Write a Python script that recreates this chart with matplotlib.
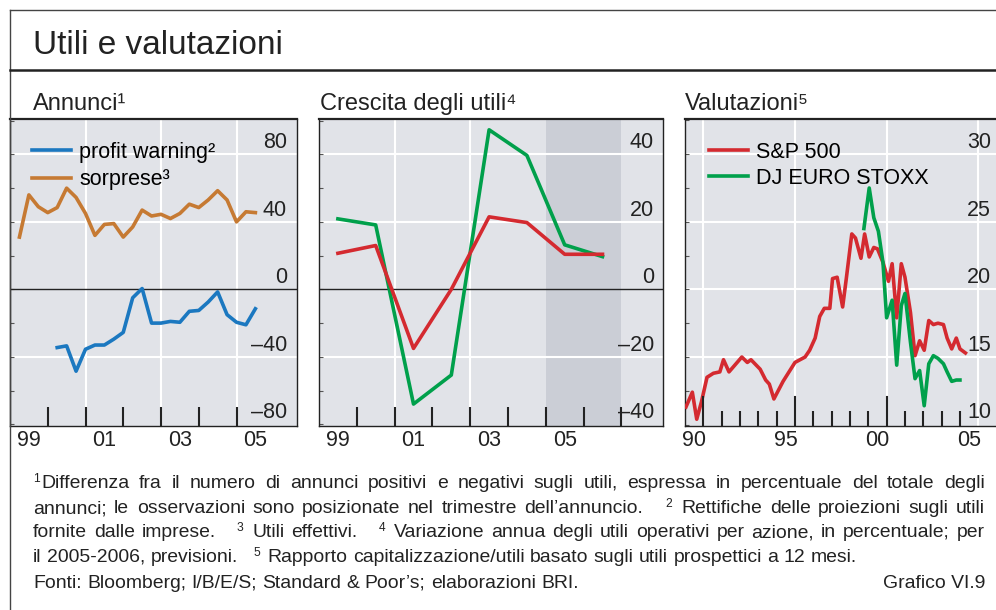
import numpy as np
import matplotlib.pyplot as plt
from matplotlib.lines import Line2D
from matplotlib.font_manager import FontProperties
from matplotlib.transforms import offset_copy

plt.rcParams['font.family'] = ['Liberation Sans', 'DejaVu Sans']

# Annunci (trimestrali): sorprese dal 1999, profit warning dal 2000
x_sorprese = np.arange(26) * 0.25 + 1999.25
sorprese = [31, 56, 49, 45.5, 48.5, 60, 54.5, 45, 32, 38.5, 39, 31, 37,
            47, 43.5, 44.5, 42, 45, 50.5, 48.5, 53, 58.5, 53, 40, 46, 45.5]
x_warning = np.arange(22) * 0.25 + 2000.25
profit_warning = [-34.5, -33.5, -48.5, -35.5, -33, -33, -29.5, -25.5, -5, 0.5,
                  -20, -20, -19, -19.5, -13, -12.5, -7.5, -1.5, -15, -19.5, -21, -11.5]

# Crescita degli utili (annuale, 1999-2006)
anni = [1999, 2000, 2001, 2002, 2003, 2004, 2005, 2006]
crescita_us = [10.7, 13, -17.5, 0, 21.5, 19.8, 10.4, 10.4]
crescita_eu = [20.9, 19.1, -34, -25.4, 47.3, 39.7, 13.2, 9.7]

# Valutazioni (P/E)
date_sp = [1990.05, 1990.4, 1990.64, 1990.9, 1991.2, 1991.55, 1991.9, 1992.1, 1992.4,
           1993.1, 1993.4, 1993.6, 1994.1, 1994.4, 1994.6, 1994.85, 1995.35, 1996.0,
           1996.55, 1996.8, 1997.1, 1997.35, 1997.6, 1997.9, 1998.05, 1998.3, 1998.6,
           1998.8, 1999.1, 1999.3, 1999.6, 1999.8, 2000.05, 2000.3, 2000.5, 2000.8,
           2001.1, 2001.3, 2001.55, 2001.8, 2002.0, 2002.3, 2002.55, 2002.8, 2003.05,
           2003.3, 2003.55, 2003.8, 2004.1, 2004.3, 2004.55, 2004.8, 2005.0, 2005.3]
pe_sp = [11.3, 12.4, 10.4, 11.7, 13.5, 13.8, 13.9, 14.8, 13.9,
         15.0, 14.6, 14.8, 14.1, 13.3, 13.0, 11.9, 13.2, 14.6,
         15.0, 15.5, 16.4, 18.0, 18.6, 18.6, 20.8, 20.9, 18.7,
         20.8, 24.1, 23.8, 22.3, 24.1, 22.4, 23.1, 23.0, 22.0,
         20.6, 21.9, 17.9, 21.9, 20.9, 18.3, 15.1, 16.2, 15.5,
         17.7, 17.4, 17.5, 17.4, 16.4, 15.6, 16.4, 15.6, 15.3]
date_eu = [1999.76, 2000.05, 2000.3, 2000.55, 2000.8, 2001.0, 2001.3, 2001.55, 2001.8,
           2002.0, 2002.3, 2002.55, 2002.8, 2003.05, 2003.3, 2003.55, 2003.8, 2004.1,
           2004.3, 2004.55, 2004.8, 2005.0]
pe_eu = [24.5, 27.5, 25.3, 24.3, 22.0, 17.9, 19.2, 14.4, 18.8,
         19.7, 16.1, 13.4, 14.0, 11.4, 14.5, 15.1, 14.9, 14.5,
         13.9, 13.2, 13.3, 13.3]

W, H = 996, 610
sfondo = '#e1e3e8'
ombra = '#cbced6'
arancio = '#c67a33'
blu = '#1b78c0'
rosso = '#d42a30'
verde = '#00a04b'
nero = '#222222'
fs_tick = 15.5

fig = plt.figure(figsize=(W / 100, H / 100), dpi=100)

def pannello(x0, x1):
    ax = fig.add_axes([x0 / W, 1 - 426 / H, (x1 - x0) / W, 307 / H])
    ax.set_facecolor(sfondo)
    for s in ax.spines.values():
        s.set_color(nero)
        s.set_linewidth(1)
    ax.spines['top'].set_linewidth(1.6)
    return ax

def asse_y(ax, tacche):
    ax.set_yticks(tacche)
    ax.set_yticklabels([])
    ax.tick_params(axis='y', direction='in', length=3, width=0.8, color='#555555')

def etichette_y(ax, valori, xr):
    tr = offset_copy(ax.get_yaxis_transform(), fig=fig, y=4.5, units='points')
    for v in valori:
        testo = str(v).replace('-', '\u2013')
        ax.text(xr, v, testo, transform=tr, ha='right', va='baseline',
                fontsize=fs_tick, color=nero)

def asse_x(ax, lunghi, centri, nomi, lung=13.7):
    ax.set_xticks(lunghi)
    ax.set_xticklabels([])
    ax.tick_params(axis='x', which='major', direction='in', length=lung,
                   width=1.5, color=nero)
    ax.set_xticks(centri, minor=True)
    ax.set_xticklabels(nomi, minor=True, fontsize=fs_tick, color=nero)
    ax.tick_params(axis='x', which='minor', length=0, pad=3)

def legenda(ax, spazio):
    ax.legend(loc='upper left', bbox_to_anchor=(0.077, 0.925), frameon=False,
              fontsize=fs_tick, handlelength=1.8, handletextpad=0.4,
              labelspacing=spazio, borderpad=0, borderaxespad=0)

# --- Annunci ---
ax1 = pannello(10, 297)
ax1.set_xlim(1999, 1999 + 287 / 37.75)
ax1.set_ylim(-81, 101)
asse_y(ax1, np.arange(-80, 101, 20))
for v in [80, 40, -40]:
    ax1.axhline(v, color='white', lw=1.5, zorder=1)
for a in [2001, 2003, 2005]:
    ax1.axvline(a, color='white', lw=1.5, zorder=1)
ax1.axhline(0, color=nero, lw=1, zorder=2)
ax1.plot(x_warning, profit_warning, color=blu, lw=2.6, zorder=3, label='profit warning²')
ax1.plot(x_sorprese, sorprese, color=arancio, lw=2.6, zorder=3, label='sorprese³')
etichette_y(ax1, [80, 40, 0, -40, -80], 0.965)
asse_x(ax1, [2000, 2001, 2002, 2003, 2004, 2005], [1999.5, 2001.5, 2003.5, 2005.5],
       ['99', '01', '03', '05'])
legenda(ax1, 0.3)

# --- Crescita degli utili ---
ax2 = pannello(319, 663)
ax2.set_xlim(1999, 1999 + 344 / 37.8)
ax2.set_ylim(-40.5, 50.5)
asse_y(ax2, np.arange(-40, 51, 10))
ax2.axvspan(2005, 2007, color=ombra, lw=0, zorder=0.5)
for v in [40, 20, -20]:
    ax2.axhline(v, color='white', lw=1.5, zorder=1)
for a in [2001, 2003]:
    ax2.axvline(a, color='white', lw=1.5, zorder=1)
ax2.axhline(0, color=nero, lw=1, zorder=2)
xa = [a + 0.5 for a in anni]
ax2.plot(xa, crescita_eu, color=verde, lw=2.6, zorder=3)
ax2.plot(xa, crescita_us, color=rosso, lw=2.6, zorder=3)
etichette_y(ax2, [40, 20, 0, -20, -40], 0.974)
asse_x(ax2, list(range(2000, 2008)), [1999.5, 2001.5, 2003.5, 2005.5],
       ['99', '01', '03', '05'])

# --- Valutazioni ---
ax3 = pannello(685, 996)
ax3.spines['right'].set_visible(False)
ax3.set_xlim(1990, 1990 + 311 / 18.33)
ax3.set_ylim(9.9, 32.6)
asse_y(ax3, np.arange(10, 32.6, 2.5))
for v in [30, 25, 20, 15]:
    ax3.axhline(v, color='white', lw=1.5, zorder=1)
for a in [1991, 1996, 2001, 2006]:
    ax3.axvline(a, color='white', lw=1.5, zorder=1)
ax3.plot(date_sp, pe_sp, color=rosso, lw=2.6, zorder=3, label='S&P 500')
ax3.plot(date_eu, pe_eu, color=verde, lw=2.6, zorder=3, label='DJ EURO STOXX')
etichette_y(ax3, [30, 25, 20, 15, 10], 0.984)
asse_x(ax3, [a for a in range(1992, 2006) if a not in (1996, 2001)],
       [1990.5, 1995.5, 2000.5, 2005.5], ['90', '95', '00', '05'], lung=10.5)
for a in [1991, 1996, 2001]:
    ax3.axvline(a, ymin=0, ymax=29 / 307, color=nero, lw=1.5, zorder=4)
legenda(ax3, 0.22)

# cornice e titoli
fig.add_artist(Line2D([10 / W, 1], [1 - 10 / H] * 2, color='#444444', lw=1))
fig.add_artist(Line2D([10 / W] * 2, [0, 1 - 10 / H], color='#444444', lw=1))
fig.add_artist(Line2D([10 / W, 1], [1 - 70 / H] * 2, color=nero, lw=1.8))
fig.text(33 / W, 1 - 54 / H, 'Utili e valutazioni', fontsize=24, va='baseline', color=nero)
fig.text(33 / W, 1 - 110 / H, 'Annunci¹', fontsize=17, va='baseline', color=nero)
fig.text(320 / W, 1 - 110 / H, 'Crescita degli utili⁴', fontsize=17, va='baseline', color=nero)
fig.text(685 / W, 1 - 110 / H, 'Valutazioni⁵', fontsize=17, va='baseline', color=nero)

# note: larghezze misurate col renderer, apici come cifre piccole rialzate
renderer = fig.canvas.get_renderer()

def larghezza(s, size):
    prop = FontProperties(family='Liberation Sans', size=size)
    return renderer.get_text_width_height_descent(s, prop, ismath=False)[0]

fs = 10 * 545 / larghezza('Fonti: Bloomberg; I/B/E/S; Standard & Poor’s; elaborazioni BRI.', 10)
apici = {'¹': '1', '²': '2', '³': '3', '⁴': '4', '⁵': '5'}

def pezzi(p):
    out = []
    if p and p[0] in apici:
        out.append((apici[p[0]], fs * 0.62, 6, larghezza(apici[p[0]], fs * 0.62) + 1.5))
        p = p[1:]
    if p:
        out.append((p, fs, 0, larghezza(p, fs)))
    return out

def riga(testo, yb, x0=33, x1=None):
    gruppi = [pezzi(p) for p in testo.split(' ')]
    larg = [sum(g[3] for g in gr) for gr in gruppi]
    if x1 is None:
        gap = fs * 100 / 72 * 0.278
    else:
        gap = ((x1 - x0) - sum(larg)) / (len(gruppi) - 1)
    x = x0
    for gr in gruppi:
        for s, size, su, w in gr:
            fig.text(x / W, 1 - (yb - su) / H, s, fontsize=size, va='baseline',
                     color=nero, family='Liberation Sans')
            x += w
        x += gap

riga('¹Differenza fra il numero di annunci positivi e negativi sugli utili, espressa in percentuale del totale degli', 488, x1=985)
riga('annunci; le osservazioni sono posizionate nel trimestre dell’annuncio.   ² Rettifiche delle proiezioni sugli utili', 513, x1=985)
riga('fornite dalle imprese.   ³ Utili effettivi.   ⁴ Variazione annua degli utili operativi per azione, in percentuale; per', 537, x1=985)
riga('il 2005-2006, previsioni.   ⁵ Rapporto capitalizzazione/utili basato sugli utili prospettici a 12 mesi.', 562)
riga('Fonti: Bloomberg; I/B/E/S; Standard & Poor’s; elaborazioni BRI.', 588)
fig.text(985 / W, 1 - 588 / H, 'Grafico VI.9', fontsize=fs, va='baseline', ha='right',
         color=nero, family='Liberation Sans')

fig.savefig('out.png', dpi=100)
